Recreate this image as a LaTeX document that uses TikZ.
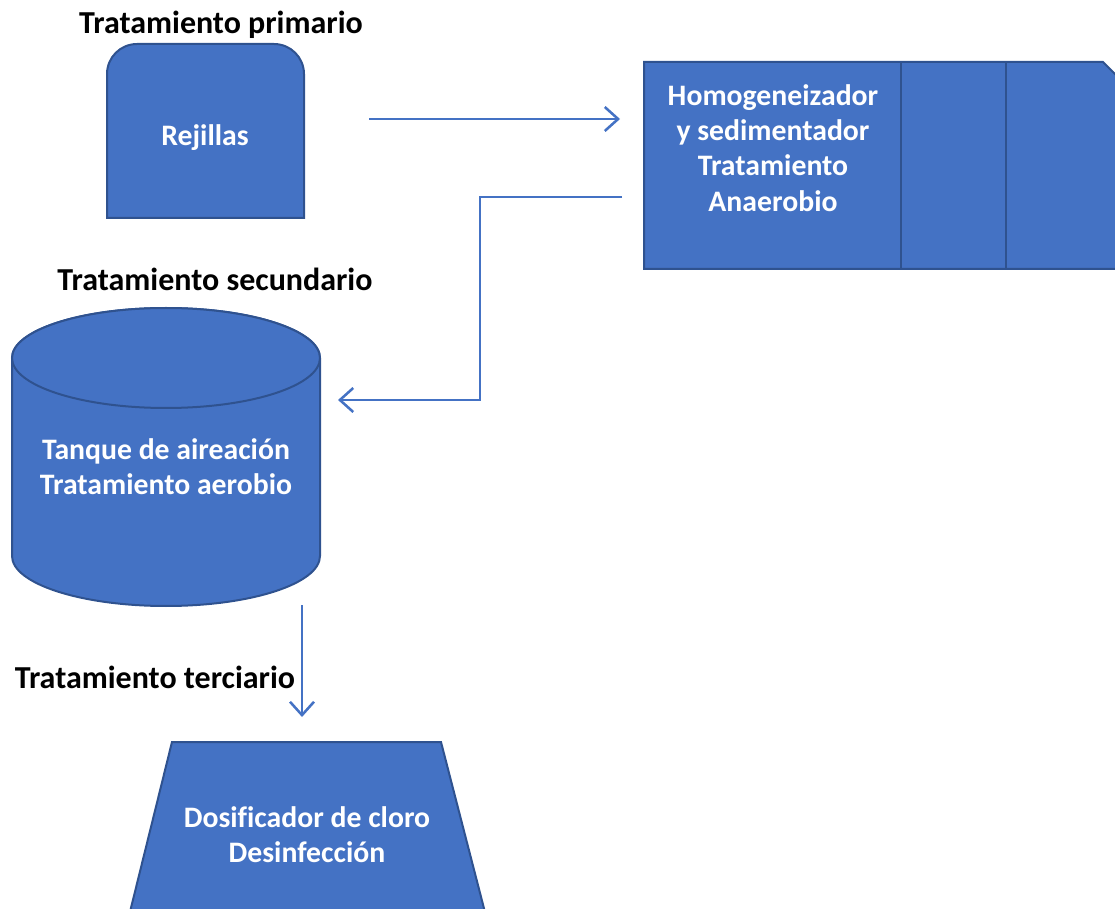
\documentclass[tikz,border=0pt]{standalone}
\usepackage{fontspec}
\setmainfont{Carlito}[Ligatures=NoCommon]
\usetikzlibrary{arrows.meta}
\definecolor{fillblue}{HTML}{4472C4}
\definecolor{edgeblue}{HTML}{2F528F}
\tikzset{
  shapebox/.style={fill=fillblue, draw=edgeblue, line width=1.5pt},
  wtext/.style={text=white, font=\fontsize{22.3}{26.5}\selectfont\bfseries, align=center},
  btext/.style={text=black, font=\fontsize{24}{28}\selectfont\bfseries},
  flow/.style={draw=fillblue, line width=1.9pt, -{Straight Barb[length=10pt,width=18pt,line width=1.9pt]}}
}
\begin{document}
\begin{tikzpicture}[x=0.75pt,y=-0.75pt]
\useasboundingbox (0,0) rectangle (1115,909);
\begin{scope}
\clip (0,0) rectangle (1115,909);
% Rejillas
\draw[shapebox] (107,218) -- (107,74) arc[start angle=180,end angle=270,radius=30] -- (274,44) arc[start angle=270,end angle=360,radius=30] -- (304,218) -- cycle;
% Homogeneizador
\draw[shapebox] (644,62) -- (1103,62) -- (1125,84) -- (1125,269) -- (644,269) -- cycle;
\draw[edgeblue, line width=1.5pt] (901,62) -- (901,269);
\draw[edgeblue, line width=1.5pt] (1006,62) -- (1006,269);
% Cylinder
\draw[shapebox] (12,358) -- (12,556) arc[start angle=180,end angle=0,x radius=154,y radius=50] -- (320,358) arc[start angle=0,end angle=-180,x radius=154,y radius=50] -- cycle;
\draw[shapebox] (166,358) ellipse[x radius=154,y radius=50];
% Trapezoid
\draw[shapebox] (172,742) -- (441,742) -- (487,920) -- (128,920) -- cycle;
\end{scope}
% texts
\node[btext] (lp) at (221,25) {Tratamiento primario};
\node[btext] (ls) at (215,279) {Tratamiento secundario};
\node[btext] (lt) at (155,677) {Tratamiento terciario};
\node[wtext] (rej) at (205,138) {Rejillas};
\node[wtext] (hom) at (773,148) {Homogeneizador\\y sedimentador\\Tratamiento\\Anaerobio};
\node[wtext] (tan) at (166,467) {Tanque de aireación\\Tratamiento aerobio};
\node[wtext] (dos) at (307,835) {Dosificador de cloro\\Desinfección};
% connector end points
\coordinate (a1s) at (369,119);
\coordinate (a1e) at (620,119);
\coordinate (a2s) at (622,197);
\coordinate (a2m1) at (480,197);
\coordinate (a2m2) at (480,400);
\coordinate (a2e) at (338,400);
\coordinate (a3s) at (302,605);
\coordinate (a3e) at (302,717);
\draw[flow] (a1s) -- (a1e);
\draw[flow] (a2s) -- (a2m1) -- (a2m2) -- (a2e);
\draw[flow] (a3s) -- (a3e);
\end{tikzpicture}
\end{document}
